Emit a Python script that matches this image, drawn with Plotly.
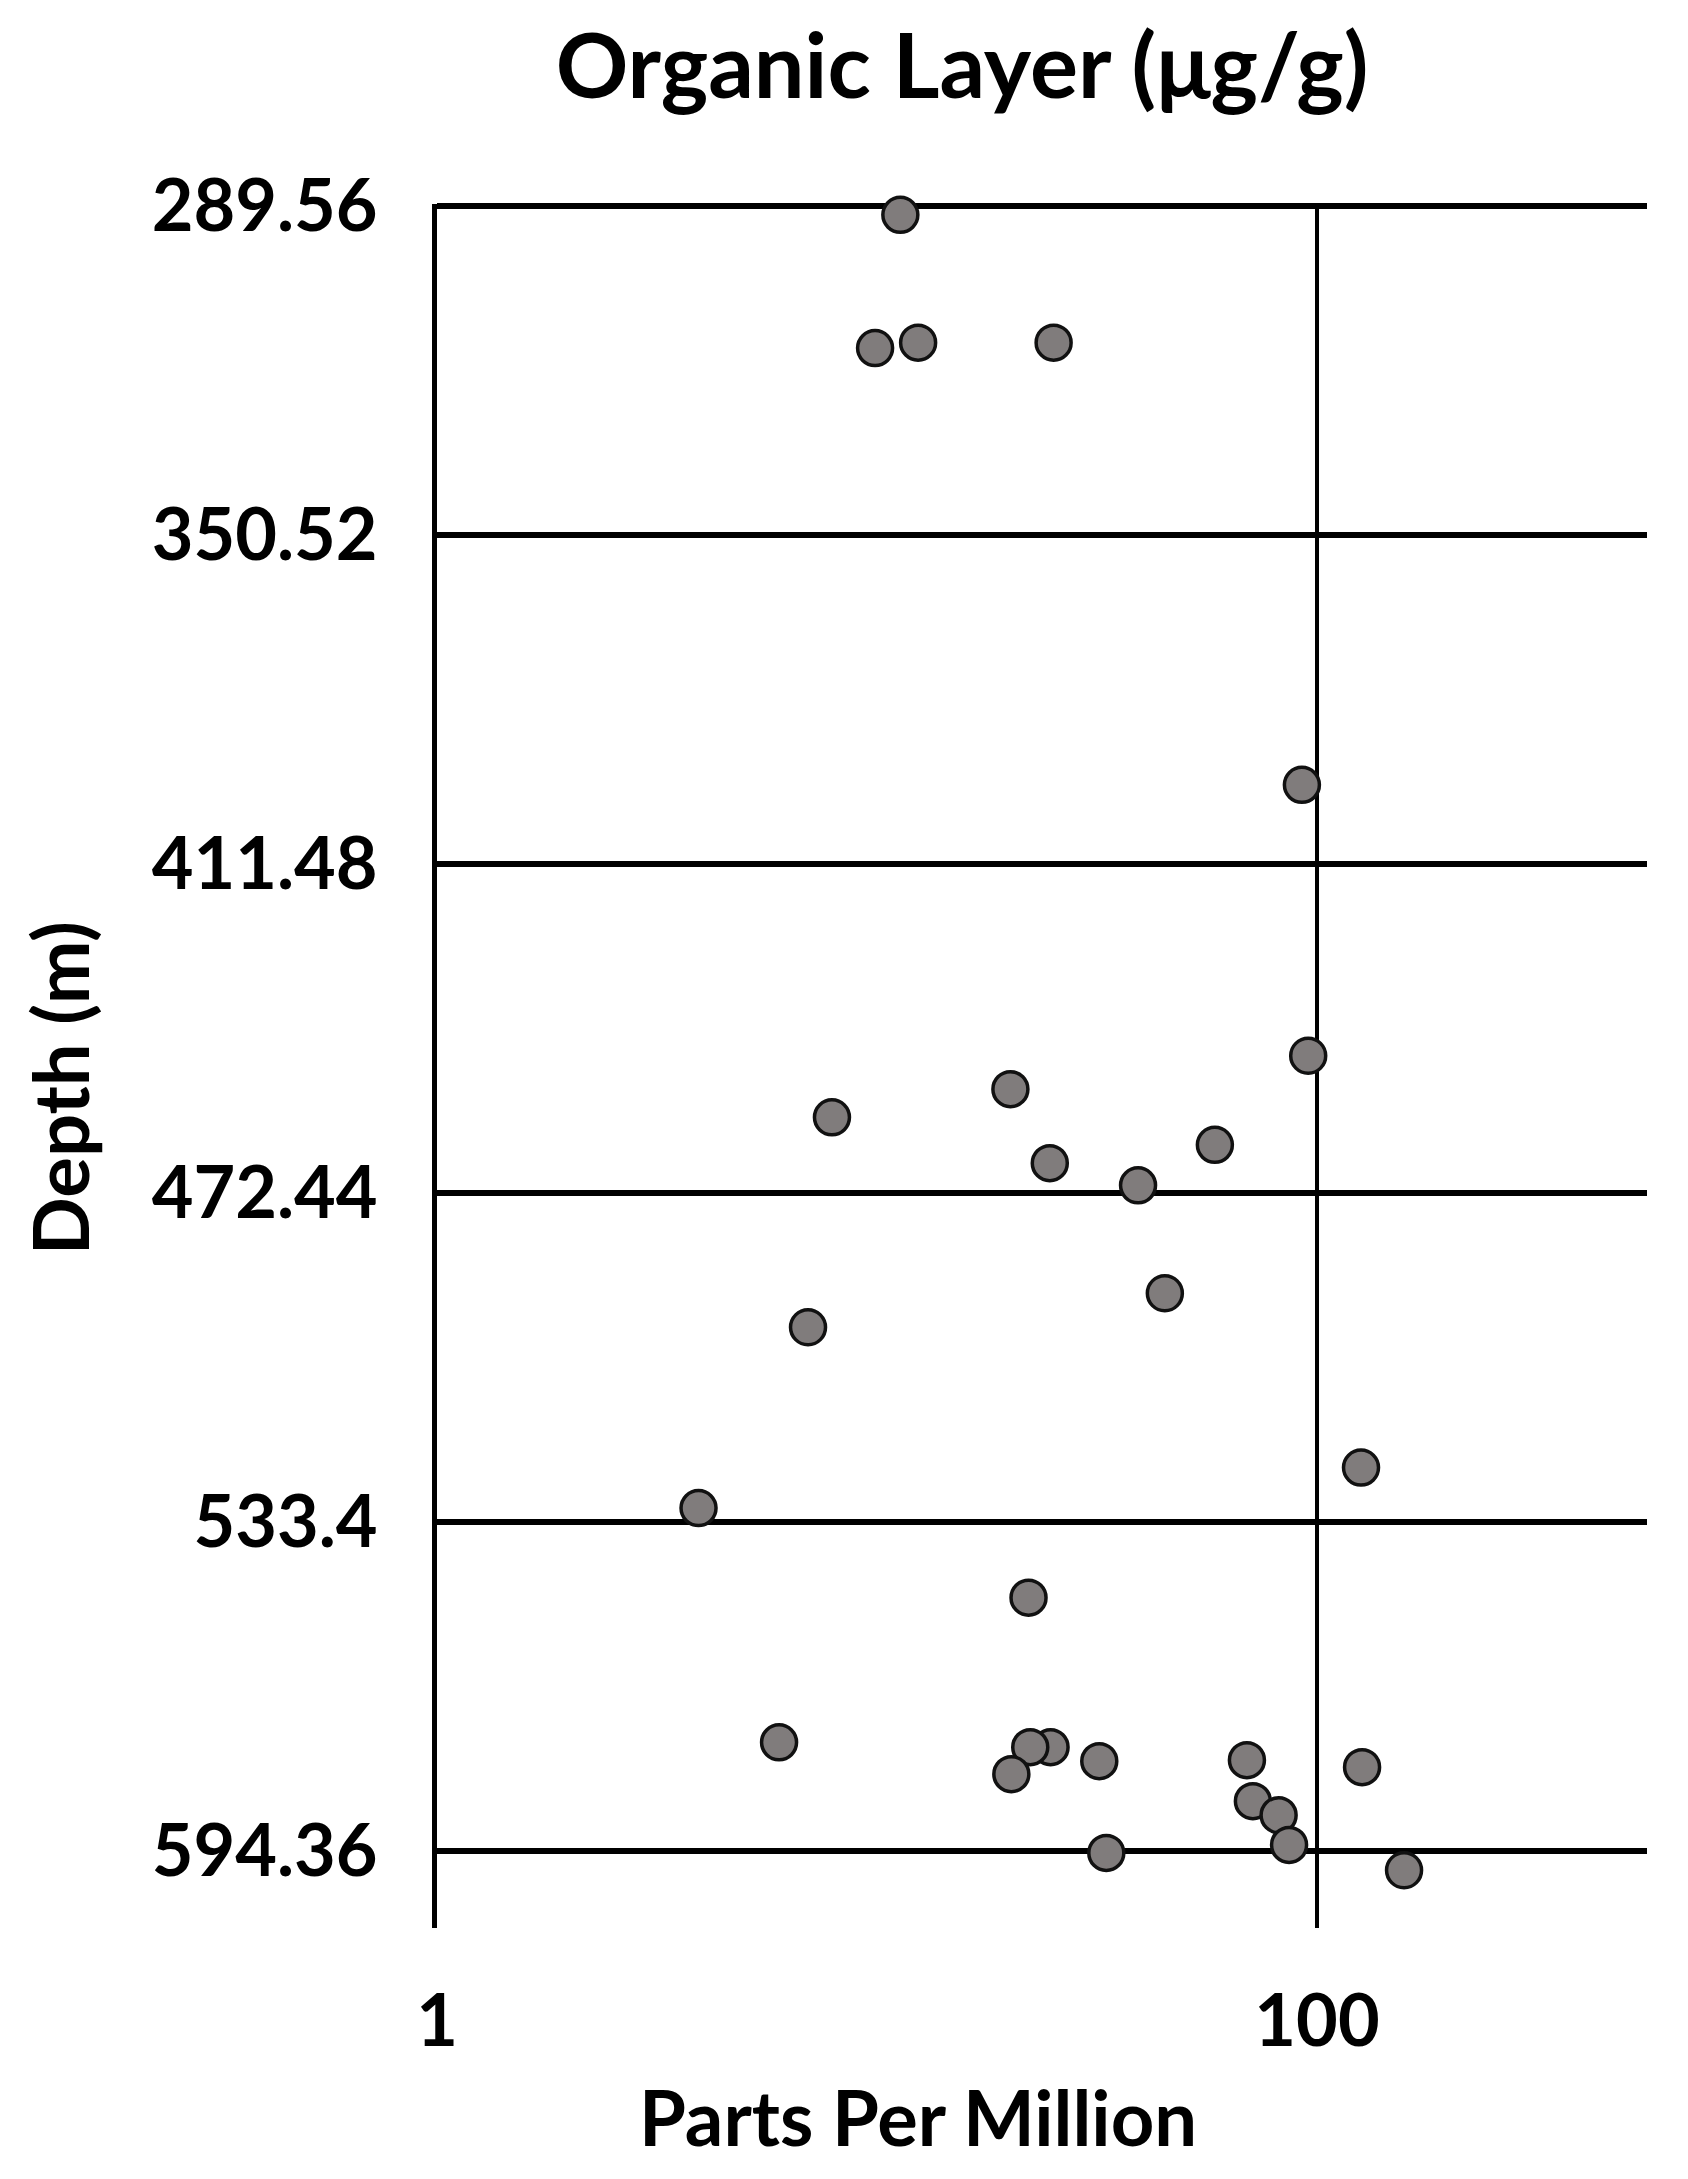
import plotly.graph_objects as go

# Data
ppm = [11.3, 9.9, 12.4, 25.2, 92.4, 95.5, 20.1, 7.9, 58.6, 24.7, 39.2, 45.1, 6.97, 125.9,
       3.93, 22.1, 5.99, 24.8, 22.3, 20.2, 32.0, 69.3, 126.6, 71.5, 81.8, 86.4, 33.2, 157.7]
depth_m = [291.2, 315.9, 314.9, 314.9, 396.8, 447.0, 453.2, 458.4, 463.5, 466.9, 471.0, 491.0,
           497.3, 523.3, 530.8, 547.4, 574.2, 575.1, 575.1, 580.1, 577.7, 577.5, 578.8, 585.1,
           587.7, 593.2, 594.7, 597.9]

depth_ticks = [289.56, 350.52, 411.48, 472.44, 533.4, 594.36]
depth_tick_labels = ["289.56", "350.52", "411.48", "472.44", "533.4", "594.36"]
ppm_ticks = [1, 100]
ppm_tick_labels = ["1", "100"]

FONT = "Lato"
W, H = 1672, 2163
L, R, T, B = 429, 33, 196, 243
PW, PH = W - L - R, H - T - B

fig = go.Figure()
fig.add_trace(go.Scatter(
    x=ppm, y=depth_m, mode="markers",
    marker=dict(size=35, color="#807c7c", line=dict(color="#111111", width=3.5)),
    cliponaxis=False, showlegend=False,
))

fig.update_layout(
    width=W, height=H,
    margin=dict(l=L, r=R, t=T, b=B),
    paper_bgcolor="white", plot_bgcolor="white",
    font=dict(family=FONT, color="black"),
    title=dict(text="Organic Layer (μg/g)", x=954 / W, y=1 - 58 / H,
               xanchor="center", yanchor="middle",
               font=dict(family=FONT, size=90, weight="bold", color="black")),
    xaxis=dict(
        type="log", range=[0, 2.75],
        tickvals=ppm_ticks, ticktext=ppm_tick_labels,
        showgrid=True, gridcolor="black", gridwidth=4,
        showline=False, zeroline=False, ticks="",
        ticklabelstandoff=45,
        tickfont=dict(family=FONT, size=72, weight="bold", color="black"),
    ),
    yaxis=dict(
        range=[608.6, 289.2],
        tickvals=depth_ticks, ticktext=depth_tick_labels,
        showgrid=True, gridcolor="black", gridwidth=5.5,
        showline=True, linecolor="black", linewidth=5,
        zeroline=False, ticks="",
        ticklabelstandoff=40,
        tickfont=dict(family=FONT, size=72, weight="bold", color="black"),
    ),
    annotations=[
        dict(text="Depth (m)", xref="paper", yref="paper",
             x=(51 - L) / PW, y=1 - (1080 - T) / PH,
             xanchor="center", yanchor="middle", textangle=-90, showarrow=False,
             font=dict(family=FONT, size=76, weight="bold", color="black")),
        dict(text="Parts Per Million", xref="paper", yref="paper",
             x=(910 - L) / PW, y=1 - (2108 - T) / PH,
             xanchor="center", yanchor="middle", showarrow=False,
             font=dict(family=FONT, size=76, weight="bold", color="black")),
    ],
)

fig.write_html("out.html")
